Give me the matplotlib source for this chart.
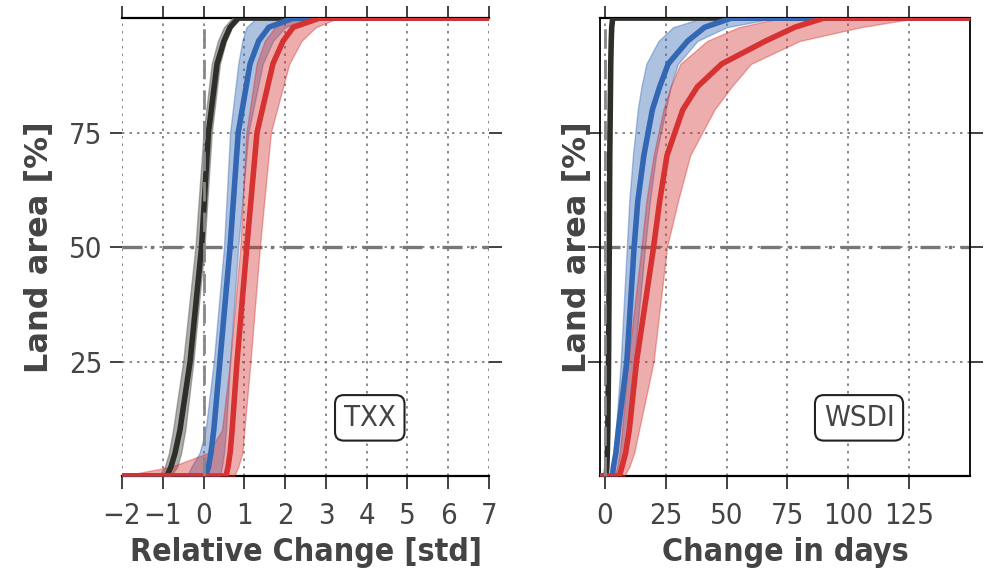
import numpy as np
import matplotlib
matplotlib.use("Agg")
import matplotlib.pyplot as plt

# percent of land area (CDF levels)
pct_txx = [0, 0, 2, 5, 10, 25, 50, 75, 90, 95, 98, 100, 100]
pct_wsdi = [0, 0, 2, 5, 10, 25, 50, 60, 70, 80, 85, 90, 95, 98, 100, 100]

# TXX: relative change [std]
txx_hist_med = [-2, -0.9, -0.8, -0.7, -0.58, -0.33, -0.05, 0.12, 0.33, 0.5, 0.65, 0.85, 7]
txx_hist_lo = [-2, -1.1, -0.95, -0.85, -0.75, -0.5, -0.2, 0.0, 0.2, 0.35, 0.5, 0.7, 7]
txx_hist_hi = [-2, -0.8, -0.65, -0.55, -0.45, -0.25, 0.02, 0.2, 0.4, 0.55, 0.7, 0.9, 7]
txx_blue_med = [-2, 0.05, 0.12, 0.18, 0.25, 0.4, 0.65, 0.85, 1.14, 1.35, 1.6, 2.2, 7]
txx_blue_lo = [-2, -0.4, -0.3, -0.1, 0.05, 0.25, 0.5, 0.65, 0.85, 0.95, 1.05, 1.3, 7]
txx_blue_hi = [-2, 0.4, 0.45, 0.5, 0.55, 0.65, 0.85, 1.1, 1.45, 1.7, 2.0, 2.6, 7]
txx_red_med = [-2, 0.55, 0.6, 0.65, 0.7, 0.82, 1.06, 1.31, 1.7, 1.95, 2.2, 2.85, 7]
txx_red_lo = [-2, -2.0, -0.8, 0.1, 0.45, 0.65, 0.9, 1.05, 1.3, 1.5, 1.75, 2.2, 7]
txx_red_hi = [-2, 0.75, 0.85, 0.95, 1.0, 1.15, 1.38, 1.65, 2.1, 2.4, 2.75, 3.3, 7]

# WSDI: change in days
wsdi_hist_med = [-2, 0.5, 0.8, 1.0, 1.2, 1.5, 1.8, 1.9, 2.0, 2.2, 2.3, 2.4, 2.6, 2.8, 3.2, 150]
wsdi_hist_lo = [-2, 0.2, 0.5, 0.7, 0.9, 1.2, 1.5, 1.6, 1.7, 1.9, 2.0, 2.1, 2.3, 2.5, 2.8, 150]
wsdi_hist_hi = [-2, 0.8, 1.1, 1.3, 1.5, 1.8, 2.1, 2.2, 2.3, 2.5, 2.6, 2.7, 2.9, 3.1, 3.6, 150]
wsdi_blue_med = [-2, 3, 3.5, 4.5, 5.5, 9, 12, 13.5, 16, 19.5, 22.5, 26, 34, 41, 52, 150]
wsdi_blue_lo = [-2, 2, 2.8, 3.5, 4.5, 6.5, 9, 10, 11.5, 13.5, 15, 17, 22, 28, 40, 150]
wsdi_blue_hi = [-2, 5, 6.5, 8, 9.5, 12, 16.5, 18.5, 21, 25, 27, 30, 38, 50, 70, 150]
wsdi_red_med = [-2, 6, 7, 8.5, 10, 13, 20, 22.5, 25.5, 32, 38, 48, 66, 78, 90, 150]
wsdi_red_lo = [-2, 4, 5, 6, 7, 9.5, 15, 17, 20, 24, 27, 31, 42, 55, 72, 150]
wsdi_red_hi = [-2, 8, 10, 12, 14, 20, 25.5, 30, 35, 45, 52, 60, 80, 105, 128, 150]

c_black = '#2e2e2a'
c_gray = '#6a6a66'
c_blue = '#3467b3'
c_red = '#d63232'
txt = '#444444'

plt.rcParams['font.family'] = ['DejaVu Sans']
plt.rcParams['font.stretch'] = 'condensed'

fig = plt.figure(figsize=(9.84, 5.76), dpi=100)
ax1 = fig.add_axes([0.124, 0.1736, 0.373, 0.795])
ax2 = fig.add_axes([0.6098, 0.1736, 0.376, 0.795])


def draw(ax, pct, curves, xlim, xticks, label, name, edge_spines, box_x):
    ax.set_xlim(*xlim)
    ax.set_ylim(0, 100)
    for med, lo, hi, col, fcol, a in curves:
        ax.fill_betweenx(pct, lo, hi, color=fcol, alpha=a, lw=1, zorder=3)
        ax.plot(med, pct, color=col, lw=4, zorder=4, solid_capstyle='butt')
    ax.axhline(50, color='#777777', lw=2.4, ls=(0, (6, 2.5, 1, 2.5)), zorder=2)
    ax.axvline(0, color='#888888', lw=2, ls=(0, (7, 4)), zorder=4.5)
    ax.set_xticks(xticks)
    ax.set_yticks([25, 50, 75])
    ax.grid(True, color='#777777', ls=(0, (1.5, 3)), lw=1.2)
    ax.tick_params(direction='out', length=9, width=1.3, color='#333333',
                   labelsize=21, labelcolor=txt, top=True, right=True, pad=5)
    ax.tick_params(axis='x', pad=10)
    ax.set_xlabel(label, fontsize=23, fontweight='bold', color=txt, labelpad=5)
    ax.set_ylabel('Land area [%]', fontsize=23, fontweight='bold', fontstretch='normal',
                  color=txt, labelpad=10)
    for s in ['top', 'bottom']:
        ax.spines[s].set_linewidth(1.6)
        ax.spines[s].set_color('black')
    for s in ['left', 'right']:
        ax.spines[s].set_visible(edge_spines)
        ax.spines[s].set_linewidth(1.3)
        ax.spines[s].set_color('black')
    ax.text(box_x, 0.127, name, transform=ax.transAxes, fontsize=21, color=txt,
            ha='center', va='center', zorder=6,
            bbox=dict(boxstyle='round,pad=0.3', fc='white', ec='#222222', lw=1.5))


draw(ax1, pct_txx,
     [(txx_hist_med, txx_hist_lo, txx_hist_hi, c_black, c_gray, 0.55),
      (txx_blue_med, txx_blue_lo, txx_blue_hi, c_blue, c_blue, 0.4),
      (txx_red_med, txx_red_lo, txx_red_hi, c_red, c_red, 0.4)],
     (-2, 7), range(-2, 8), 'Relative Change [std]', 'TXX', False, 0.675)

draw(ax2, pct_wsdi,
     [(wsdi_hist_med, wsdi_hist_lo, wsdi_hist_hi, c_black, c_gray, 0.55),
      (wsdi_blue_med, wsdi_blue_lo, wsdi_blue_hi, c_blue, c_blue, 0.4),
      (wsdi_red_med, wsdi_red_lo, wsdi_red_hi, c_red, c_red, 0.4)],
     (-2, 150), range(0, 150, 25), 'Change in days', 'WSDI', True, 0.70)
ax2.tick_params(axis='y', labelleft=False)
ax2.yaxis.labelpad = -4

fig.savefig('out.png', dpi=100)
